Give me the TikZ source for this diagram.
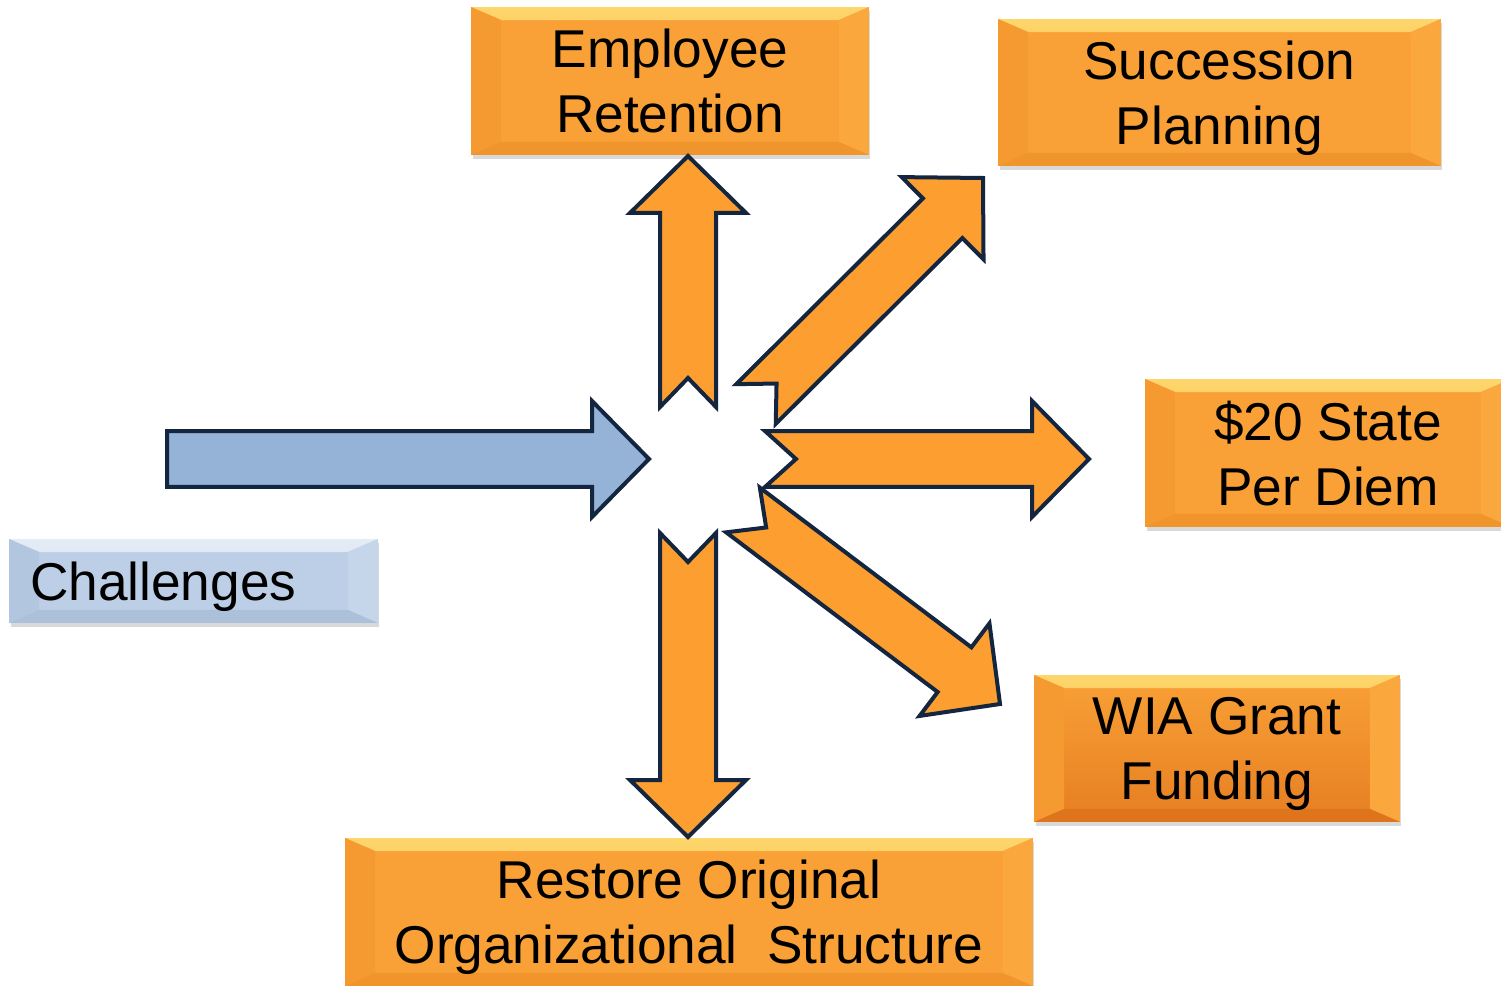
\documentclass[tikz,border=0pt]{standalone}
\usepackage{fontspec}
\setmainfont{Liberation Sans}
\usetikzlibrary{calc,shadows}
\definecolor{navy}{RGB}{19,37,63}
\definecolor{arrorange}{RGB}{252,158,48}
\definecolor{arrblue}{RGB}{149,179,215}
\definecolor{omain}{RGB}{249,161,54}
\definecolor{otopl}{RGB}{253,214,108}
\definecolor{otop}{RGB}{250,172,62}
\definecolor{oleft}{RGB}{245,154,48}
\definecolor{oright}{RGB}{250,168,62}
\definecolor{obot}{RGB}{240,148,44}
\definecolor{odark}{RGB}{230,126,34}
\definecolor{odarkb}{RGB}{222,116,28}
\definecolor{bmain}{RGB}{188,207,230}
\definecolor{btopl}{RGB}{228,236,246}
\definecolor{btop}{RGB}{200,216,236}
\definecolor{bleft}{RGB}{178,198,224}
\definecolor{bright}{RGB}{198,214,234}
\definecolor{bbot}{RGB}{172,192,218}
\newcommand\bevelbands[5]{%
 \shade[top color=#1, bottom color=#2] (path picture bounding box.north west) -- (path picture bounding box.north east) -- ([xshift=-0.6cm,yshift=-0.26cm]path picture bounding box.north east) -- ([xshift=0.6cm,yshift=-0.26cm]path picture bounding box.north west) -- cycle;
 \fill[#3] (path picture bounding box.north west) -- ([xshift=0.6cm,yshift=-0.26cm]path picture bounding box.north west) -- ([xshift=0.6cm,yshift=0.26cm]path picture bounding box.south west) -- (path picture bounding box.south west) -- cycle;
 \fill[#4] (path picture bounding box.north east) -- ([xshift=-0.6cm,yshift=-0.26cm]path picture bounding box.north east) -- ([xshift=-0.6cm,yshift=0.26cm]path picture bounding box.south east) -- (path picture bounding box.south east) -- cycle;
 \fill[#5] (path picture bounding box.south west) -- ([xshift=0.6cm,yshift=0.26cm]path picture bounding box.south west) -- ([xshift=-0.6cm,yshift=0.26cm]path picture bounding box.south east) -- (path picture bounding box.south east) -- cycle;
}
\newcommand\blockarrow[4]{%
 \coordinate (ba-t1) at ($(#1)!0.56cm!90:(#2)$);
 \coordinate (ba-t2) at ($(#1)!0.56cm!-90:(#2)$);
 \coordinate (ba-n) at ($(#1)!#3!(#2)$);
 \coordinate (ba-h) at ($(#2)!1.14cm!(#1)$);
 \coordinate (ba-s1) at ($(ba-h)!0.56cm!90:(#2)$);
 \coordinate (ba-s2) at ($(ba-h)!0.56cm!-90:(#2)$);
 \coordinate (ba-w1) at ($(ba-h)!1.16cm!90:(#2)$);
 \coordinate (ba-w2) at ($(ba-h)!1.16cm!-90:(#2)$);
 \draw[#4] (ba-t1) -- (ba-n) -- (ba-t2) -- (ba-s2) -- (ba-w2) -- (#2) -- (ba-w1) -- (ba-s1) -- cycle;
}
\tikzset{
 txt/.style={font=\fontsize{30.3pt}{37pt}\selectfont, align=center, inner sep=0pt, text=black, text depth=0pt},
 shad/.style={drop shadow={opacity=0.3, shadow xshift=0.03cm, shadow yshift=-0.08cm}},
 obox/.style={txt, shad, rectangle, fill=omain, path picture={\bevelbands{otopl}{otop}{oleft}{oright}{obot}}},
 odbox/.style={txt, shad, rectangle, top color=omain, bottom color=odark, path picture={\bevelbands{otopl}{otop}{oleft}{oright}{odarkb}}},
 bbox/.style={txt, shad, rectangle, fill=bmain, path picture={\bevelbands{btopl}{btop}{bleft}{bright}{bbot}}},
 oarrow/.style={draw=navy, line width=0.08cm, fill=arrorange},
 barrow/.style={draw=navy, line width=0.08cm, fill=arrblue}
}
\begin{document}
\begin{tikzpicture}[x=0.02cm, y=-0.02cm]
\useasboundingbox (0,0) rectangle (1501,986);
% boxes
\node[obox, minimum width=7.96cm, minimum height=2.96cm] (er) at (670,81) {Employee\\Retention};
\node[obox, minimum width=8.86cm, minimum height=2.94cm] (sp) at (1219.5,92.5) {Succession\\Planning};
\node[obox, minimum width=7.32cm, minimum height=2.96cm] (pd) at (1328,453) {\$20 State\\Per Diem};
\node[odbox, minimum width=7.32cm, minimum height=2.94cm] (wia) at (1217,748.5) {WIA Grant\\Funding};
\node[obox, minimum width=13.76cm, minimum height=2.96cm] (ros) at (689,912) {Restore Original\\Organizational\ \ Structure};
\node[bbox, minimum width=7.38cm, minimum height=1.68cm, text width=6.54cm, inner xsep=0.42cm, align=left] (ch) at (193.5,581) {Challenges};
% arrow anchors
\coordinate (inTail) at (167,459);
\coordinate (inTip) at (649,459);
\coordinate (upTail) at (688,407);
\coordinate (upTip) at (688,156);
\coordinate (neTail) at (756,404);
\coordinate (neTip) at (983,178);
\coordinate (rtTail) at (765,459);
\coordinate (rtTip) at (1089,459);
\coordinate (seTail) at (743,510);
\coordinate (seTip) at (1000,704);
\coordinate (dnTail) at (688,533);
\coordinate (dnTip) at (688,837);
% arrows
\blockarrow{inTail}{inTip}{0cm}{barrow}
\blockarrow{upTail}{upTip}{0.58cm}{oarrow}
\blockarrow{neTail}{neTip}{0.58cm}{oarrow}
\blockarrow{rtTail}{rtTip}{0.62cm}{oarrow}
\blockarrow{seTail}{seTip}{0.58cm}{oarrow}
\blockarrow{dnTail}{dnTip}{0.58cm}{oarrow}
\end{tikzpicture}
\end{document}
